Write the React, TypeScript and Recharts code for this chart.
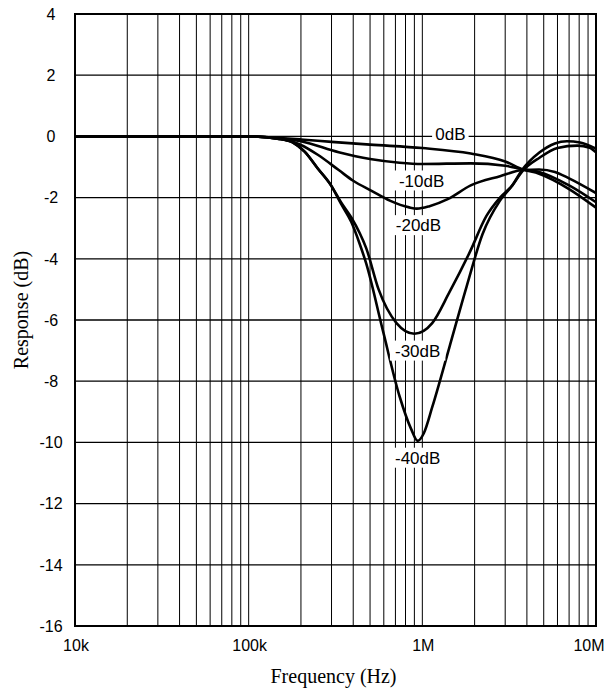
import {
  LineChart, Line, XAxis, YAxis, CartesianGrid, ReferenceLine,
  ReferenceArea, ReferenceDot,
} from 'recharts';

// axis ticks
const freqTicks = [1e4, 1e5, 1e6, 1e7];
const freqTickLabels = ['10k', '100k', '1M', '10M'];
const dbTicks = [4, 2, 0, -2, -4, -6, -8, -10, -12, -14, -16];

// log grid: 1..9 in every decade
const gridMantissas = [1, 2, 3, 4, 5, 6, 7, 8, 9];
const gridDecades = [1e4, 1e5, 1e6];

// response curves (Hz, dB)
const curve0dB = [
  { f: 1e4, db: 0 }, { f: 5e4, db: 0 }, { f: 1e5, db: 0 }, { f: 1.5e5, db: -0.05 },
  { f: 2e5, db: -0.1 }, { f: 3e5, db: -0.18 }, { f: 5e5, db: -0.27 }, { f: 1e6, db: -0.38 },
  { f: 1.9e6, db: -0.56 }, { f: 3e6, db: -0.82 }, { f: 3.8e6, db: -1.08 },
  { f: 4.7e6, db: -1.22 }, { f: 7e6, db: -1.72 }, { f: 1e7, db: -2.33 },
];
const curve10dB = [
  { f: 1e4, db: 0 }, { f: 1e5, db: 0 }, { f: 1.5e5, db: -0.06 }, { f: 2e5, db: -0.16 },
  { f: 3.3e5, db: -0.52 }, { f: 5e5, db: -0.74 }, { f: 7.4e5, db: -0.86 }, { f: 1e6, db: -0.9 },
  { f: 1.9e6, db: -0.88 }, { f: 3e6, db: -0.96 }, { f: 3.8e6, db: -1.08 },
  { f: 4.7e6, db: -1.16 }, { f: 7e6, db: -1.6 }, { f: 1e7, db: -2.15 },
];
const curve20dB = [
  { f: 1e4, db: 0 }, { f: 1e5, db: 0 }, { f: 1.5e5, db: -0.08 }, { f: 2e5, db: -0.28 },
  { f: 2.5e5, db: -0.6 }, { f: 3.3e5, db: -1.1 }, { f: 4e5, db: -1.45 }, { f: 5.1e5, db: -1.78 },
  { f: 6.5e5, db: -2.1 }, { f: 8.4e5, db: -2.32 }, { f: 9.3e5, db: -2.36 }, { f: 1.1e6, db: -2.28 },
  { f: 1.4e6, db: -2.05 }, { f: 1.9e6, db: -1.6 }, { f: 2.8e6, db: -1.3 }, { f: 3.8e6, db: -1.1 },
  { f: 4.7e6, db: -1.08 }, { f: 5.8e6, db: -1.16 }, { f: 7e6, db: -1.37 }, { f: 1e7, db: -1.85 },
];
const curve30dB = [
  { f: 1e4, db: 0 }, { f: 1e5, db: 0 }, { f: 1.5e5, db: -0.08 }, { f: 1.8e5, db: -0.2 },
  { f: 2.1e5, db: -0.5 }, { f: 2.5e5, db: -1.05 }, { f: 2.98e5, db: -1.6 }, { f: 3.4e5, db: -2.15 },
  { f: 3.9e5, db: -2.65 }, { f: 4.35e5, db: -3.15 }, { f: 4.75e5, db: -3.65 }, { f: 5.6e5, db: -5.0 },
  { f: 7.1e5, db: -6.1 }, { f: 9e5, db: -6.45 }, { f: 1.14e6, db: -6.1 }, { f: 1.43e6, db: -5.1 },
  { f: 1.87e6, db: -3.8 }, { f: 2.34e6, db: -2.6 }, { f: 2.8e6, db: -2.0 }, { f: 3.3e6, db: -1.6 },
  { f: 3.75e6, db: -1.15 }, { f: 4.75e6, db: -0.69 }, { f: 6e6, db: -0.38 }, { f: 7.8e6, db: -0.3 },
  { f: 9.2e6, db: -0.37 }, { f: 1e7, db: -0.52 },
];
const curve40dB = [
  { f: 1e4, db: 0 }, { f: 1e5, db: 0 }, { f: 1.5e5, db: -0.08 }, { f: 1.8e5, db: -0.2 },
  { f: 2.1e5, db: -0.5 }, { f: 2.5e5, db: -1.05 }, { f: 2.98e5, db: -1.6 }, { f: 3.4e5, db: -2.2 },
  { f: 3.9e5, db: -2.8 }, { f: 4.35e5, db: -3.5 }, { f: 4.75e5, db: -4.15 }, { f: 5.9e5, db: -6.3 },
  { f: 7.4e5, db: -8.5 }, { f: 8.6e5, db: -9.55 }, { f: 9.4e5, db: -9.95 }, { f: 1.02e6, db: -9.7 },
  { f: 1.14e6, db: -8.85 }, { f: 1.43e6, db: -6.9 }, { f: 1.8e6, db: -4.9 }, { f: 2.22e6, db: -3.2 },
  { f: 2.8e6, db: -2.1 }, { f: 3.3e6, db: -1.6 }, { f: 3.75e6, db: -1.1 }, { f: 4.74e6, db: -0.52 },
  { f: 5.8e6, db: -0.23 }, { f: 6.8e6, db: -0.16 }, { f: 8.1e6, db: -0.2 }, { f: 1e7, db: -0.4 },
];

const curves = [curve0dB, curve10dB, curve20dB, curve30dB, curve40dB];

// curve tags
const tagTexts = ['0dB', '-10dB', '-20dB', '-30dB', '-40dB'];
const tagFreqs = [1.45e6, 9.9e5, 9.5e5, 9.4e5, 9.4e5];
const tagDbs = [0.07, -1.44, -2.9, -7.0, -10.5];

const SANS = '"Liberation Sans", Arial, sans-serif';
const SERIF = '"Liberation Serif", "Times New Roman", serif';

const gridFreqs = gridDecades.flatMap((d) => gridMantissas.map((m) => m * d)).slice(1);

function FreqTick(props: any) {
  const { x, y, payload } = props;
  const i = freqTicks.indexOf(payload.value);
  const shift = payload.value === 1e7 ? -7 : 1;
  return (
    <text x={x + shift} y={y} dy="0.71em" textAnchor="middle" fontFamily={SANS} fontSize={16} fill="#000">
      {freqTickLabels[i]}
    </text>
  );
}

function DbTick(props: any) {
  const { y, payload } = props;
  return (
    <text x={51} y={y} dy="0.36em" textAnchor="middle" fontFamily={SANS} fontSize={16} fill="#000">
      {payload.value}
    </text>
  );
}

function tagShape(text: string) {
  return (props: any) => {
    const { cx, cy } = props;
    const w = text.length * 9.5 + 8;
    return (
      <g>
        <rect x={cx - w / 2} y={cy - 10} width={w} height={20} fill="#fff" />
        <text x={cx} y={cy} dy="0.36em" textAnchor="middle" fontFamily={SANS} fontSize={17} fill="#000">
          {text}
        </text>
      </g>
    );
  };
}

export default function App() {
  return (
    <div style={{ width: 607, height: 692, background: '#fff' }}>
      <style>{'body{margin:0;background:#fff}'}</style>
      <LineChart width={607} height={692} margin={{ top: 14, right: 11, bottom: 0, left: 0 }}>
        <CartesianGrid horizontal vertical={false} stroke="#000" strokeWidth={1.3} />
        {gridFreqs.map((f) => (
          <ReferenceLine key={f} x={f} stroke="#000" strokeWidth={1} />
        ))}
        <XAxis
          dataKey="f"
          type="number"
          scale="log"
          domain={[1e4, 1e7]}
          ticks={freqTicks}
          allowDataOverflow
          axisLine={false}
          tickLine={false}
          tickSize={0}
          tickMargin={14}
          height={66}
          interval={0}
          tick={<FreqTick />}
          label={{
            content: (p: any) => {
              const vb = p.viewBox;
              return (
                <text x={vb.x + vb.width / 2 - 2} y={vb.y + 57} textAnchor="middle" fontFamily={SERIF} fontSize={20} fill="#000">
                  Frequency (Hz)
                </text>
              );
            },
          }}
        />
        <YAxis
          type="number"
          domain={[-16, 4]}
          ticks={dbTicks}
          allowDataOverflow
          axisLine={false}
          tickLine={false}
          tickSize={0}
          width={75}
          tick={<DbTick />}
          label={{
            content: (p: any) => {
              const vb = p.viewBox;
              const cx = 21;
              const cy = vb.y + vb.height / 2 - 10;
              return (
                <text x={cx} y={cy} transform={`rotate(-90 ${cx} ${cy})`} dy="0.35em" textAnchor="middle" fontFamily={SERIF} fontSize={20} fill="#000">
                  Response (dB)
                </text>
              );
            },
          }}
        />
        <ReferenceArea x1={1e4} x2={1e7} y1={-16} y2={4} fill="none" stroke="#000" strokeWidth={2} />
        {curves.map((c, i) => (
          <Line
            key={tagTexts[i]}
            data={c}
            dataKey="db"
            type="monotone"
            stroke="#000"
            strokeWidth={2.6}
            dot={false}
            isAnimationActive={false}
          />
        ))}
        {tagTexts.map((t, i) => (
          <ReferenceDot key={t} x={tagFreqs[i]} y={tagDbs[i]} r={0} shape={tagShape(t)} />
        ))}
      </LineChart>
    </div>
  );
}
